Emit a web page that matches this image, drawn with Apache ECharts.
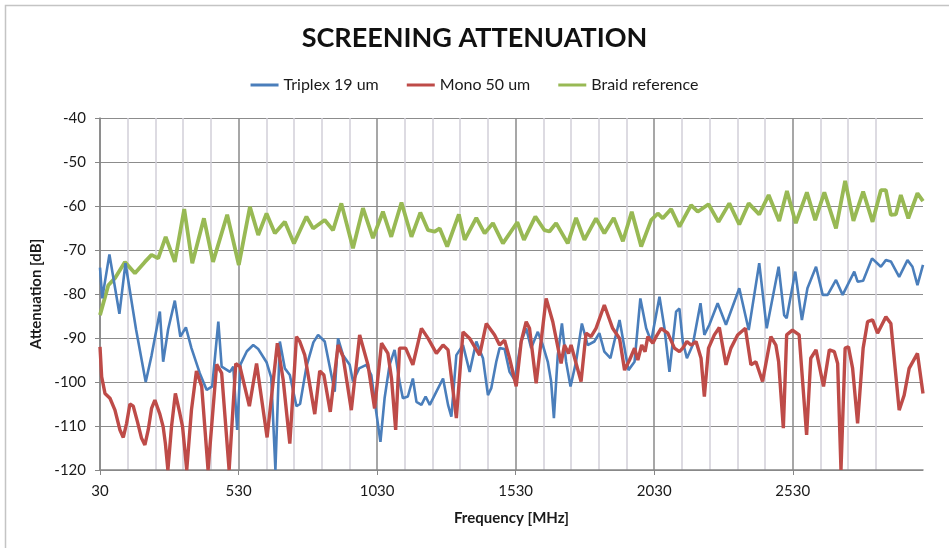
<!DOCTYPE html>
<html>
<head>
<meta charset="utf-8">
<script src="https://cdn.jsdelivr.net/npm/echarts@6/dist/echarts.min.js"></script>
<style>
  html, body { margin: 0; padding: 0; background: #fff; }
  #chart { width: 949px; height: 548px; }
</style>
</head>
<body>
<div id="chart"></div>
<script>
// series names
var seriesNames = ['Triplex 19 um', 'Mono 50 um', 'Braid reference'];

// [MHz, dB]
var triplexData = [[30,-74],[38,-81],[64,-71],[80,-77],[100,-84.5],[122,-73],[160,-88],[195,-100],[216,-94],[246,-84],[258,-95.4],[276,-88],[300,-81.5],[320,-89.7],[340,-87.6],[360,-92.3],[390,-98],[415,-101.8],[435,-101],[457,-86.3],[469,-96.5],[499,-97.7],[511,-96.5],[525,-110.9],[537,-96],[560,-93],[583,-91.6],[601,-92.5],[631,-95.5],[648,-99],[663,-120],[679,-90.8],[697,-96.9],[715,-98.4],[739,-105.5],[752,-105],[775,-96.5],[800,-91],[817,-89.3],[841,-90.8],[865,-98.4],[877,-102.2],[889,-90.1],[907,-93.9],[931,-96.1],[943,-99.9],[965,-96.9],[991,-96.1],[1009,-98.4],[1025,-106],[1042,-113.6],[1057,-103.7],[1075,-96.1],[1093,-92.7],[1111,-99.9],[1123,-103.7],[1141,-103.3],[1159,-99.2],[1172,-104.5],[1190,-105.2],[1205,-103.3],[1220,-105.2],[1244,-102.2],[1268,-99.2],[1286,-105.2],[1298,-107.9],[1316,-93.9],[1340,-91.6],[1364,-97.7],[1388,-90.8],[1412,-94.6],[1430,-103],[1442,-101.4],[1460,-95.4],[1472,-92.3],[1490,-92.5],[1508,-97.7],[1526,-99.5],[1550,-90.8],[1568,-87.8],[1586,-92.3],[1610,-88.6],[1628,-91.6],[1646,-95.4],[1658,-99.9],[1668,-108.2],[1682,-93.9],[1697,-86.7],[1712,-95.4],[1728,-101],[1748,-95.4],[1769,-86.7],[1790,-91.6],[1814,-90.8],[1832,-88.9],[1850,-93.1],[1872,-94.6],[1886,-90.8],[1905,-85.9],[1923,-92.3],[1937,-97.3],[1959,-95.4],[1980,-81],[2001,-87.8],[2019,-90.8],[2049,-80.6],[2067,-87.8],[2085,-97.7],[2109,-84],[2121,-83.3],[2133,-90.8],[2148,-94.6],[2169,-91.6],[2197,-82.1],[2211,-89.3],[2229,-87],[2259,-82.1],[2289,-87],[2337,-78.7],[2371,-88.2],[2409,-73],[2436,-87.8],[2479,-73.8],[2499,-84.8],[2508,-85.5],[2539,-74.9],[2563,-85.9],[2583,-78.7],[2614,-73.8],[2638,-80.2],[2656,-80.2],[2686,-76.8],[2710,-80.2],[2752,-74.9],[2764,-77.2],[2784,-77],[2816,-71.9],[2848,-73.8],[2866,-72.3],[2884,-72.6],[2914,-76.1],[2944,-72.3],[2962,-73.8],[2980,-78],[3000,-73.4]];

var monoData = [[30,-92],[36,-98.8],[48,-102.6],[66,-103.7],[84,-106.4],[102,-110.9],[114,-112.6],[126,-109.4],[138,-105],[150,-105.5],[165,-109],[180,-112.8],[192,-114.3],[204,-110.9],[216,-106],[228,-104.1],[246,-107.3],[258,-110.2],[266,-114],[275,-120],[288,-110.2],[302,-102.6],[318,-107.1],[328,-110.2],[343,-120],[360,-106.4],[378,-97.5],[397,-101],[420,-120],[451,-96],[469,-98],[496,-120],[520,-95.8],[535,-96.5],[569,-105.5],[595,-95.8],[633,-112.6],[670,-91.2],[691,-99.5],[715,-114],[739,-89.7],[751,-90.8],[769,-93.9],[805,-107.3],[823,-97.5],[838,-98.4],[861,-106.8],[889,-91.6],[907,-94.2],[937,-106.4],[967,-89.3],[997,-96.1],[1021,-106],[1046,-91.2],[1069,-93.5],[1082,-99.2],[1097,-110.9],[1111,-92.3],[1133,-92.3],[1159,-96.1],[1190,-87.8],[1214,-90.1],[1244,-93.5],[1268,-91.6],[1286,-92.7],[1316,-108.2],[1340,-88.6],[1364,-90.1],[1400,-93.9],[1424,-86.7],[1454,-89.3],[1472,-91.6],[1490,-90.5],[1508,-94.6],[1532,-101],[1550,-90.8],[1568,-86.3],[1580,-87.8],[1604,-100.3],[1640,-81],[1664,-86.3],[1694,-95.8],[1706,-91.6],[1721,-93.5],[1730,-91.6],[1766,-99.9],[1784,-88.9],[1802,-89.7],[1820,-87.8],[1850,-82.5],[1880,-87.8],[1905,-90.1],[1923,-97.3],[1941,-95],[1959,-92.3],[1971,-95],[1985,-91.6],[1997,-93.1],[2007,-89.7],[2025,-91.2],[2037,-89.7],[2055,-87.8],[2079,-88.9],[2103,-92.3],[2121,-93.1],[2133,-92.3],[2148,-90.8],[2163,-91.6],[2181,-90.8],[2199,-94.6],[2211,-103.3],[2226,-92.3],[2247,-89.3],[2265,-87.6],[2289,-96.1],[2307,-92.3],[2331,-89.3],[2359,-87.8],[2379,-96.1],[2397,-95.4],[2421,-99.9],[2451,-89.7],[2469,-91.6],[2479,-95.4],[2496,-110.5],[2508,-89.3],[2529,-88.2],[2553,-89.3],[2580,-112],[2595,-94.6],[2614,-92.7],[2641,-101],[2662,-92.7],[2680,-93.1],[2692,-95.8],[2704,-120],[2719,-92.3],[2731,-92],[2746,-96.9],[2764,-109.4],[2784,-92.3],[2800,-86.3],[2818,-85.9],[2836,-88.9],[2866,-85.2],[2884,-86.7],[2914,-106.4],[2932,-103],[2950,-96.9],[2980,-93.5],[3000,-102.6]];

var braidData = [[30,-84.8],[60,-78],[84,-76.4],[120,-72.7],[156,-75.3],[192,-72.7],[216,-71.1],[240,-71.9],[267,-67],[300,-72.7],[334,-60.7],[363,-73],[405,-62.8],[438,-72.7],[489,-62],[531,-73.4],[571,-60.2],[601,-66.6],[631,-61.7],[661,-66.2],[697,-63.6],[730,-68.5],[775,-62.4],[799,-65.1],[841,-63.2],[871,-65.5],[901,-59.4],[943,-69.6],[979,-60.5],[1015,-67.3],[1051,-61.3],[1081,-67],[1118,-59.2],[1154,-67],[1186,-61.5],[1214,-65.5],[1238,-65.8],[1256,-65.1],[1283,-69.2],[1325,-61.9],[1346,-67.7],[1388,-62.7],[1418,-66.2],[1448,-63.9],[1484,-68.5],[1536,-63.7],[1560,-67.7],[1601,-62.4],[1634,-65.5],[1652,-65.8],[1676,-63.9],[1718,-68.5],[1748,-62.7],[1778,-67.7],[1820,-62.8],[1850,-66.2],[1884,-62.7],[1917,-68],[1949,-61.3],[1983,-69.2],[2019,-63.2],[2043,-61.7],[2061,-62.8],[2091,-60.7],[2121,-64.7],[2163,-59.8],[2187,-61.3],[2226,-59.6],[2262,-63.6],[2301,-59.4],[2337,-64.2],[2371,-59.4],[2409,-61.9],[2443,-57.5],[2481,-63.4],[2509,-56.6],[2541,-63.9],[2581,-56.9],[2611,-63.2],[2644,-56.9],[2686,-65.1],[2719,-54.3],[2749,-63.4],[2784,-56.7],[2818,-63.6],[2848,-56.4],[2866,-56.4],[2884,-62],[2902,-61.9],[2920,-57.5],[2947,-62.8],[2980,-57.1],[3000,-58.9]];

// axis ticks
var labelFreqs = [30, 530, 1030, 1530, 2030, 2530];
var gridFreqs = [30,130,230,330,430,530,630,730,830,930,1030,1130,1230,1330,1430,1530,1630,1730,1830,1930,2030,2130,2230,2330,2430,2530,2630,2730,2830,2930];

var myChart = echarts.init(document.getElementById('chart'));
var txt = '#1a1a1a';
var font = 'Lato';

var option = {
    backgroundColor: '#fff',
    animation: false,
    textStyle: { fontFamily: font },
    title: {
        text: 'SCREENING ATTENUATION',
        left: 'center',
        top: 20,
        textStyle: { fontFamily: font, fontSize: 27, fontWeight: 'bold', color: '#111' }
    },
    legend: {
        data: seriesNames,
        top: 72,
        left: 'center',
        icon: 'rect',
        itemWidth: 28,
        itemHeight: 3,
        itemGap: 28,
        textStyle: { fontFamily: font, fontSize: 16, color: txt }
    },
    grid: { left: 100, right: 26, top: 118, bottom: 78 },
    graphic: [{
        type: 'rect',
        shape: { x: 5.5, y: 5.5, width: 980, height: 600 },
        style: { fill: null, stroke: '#c4c4c4', lineWidth: 1.5 },
        silent: true
    }],
    xAxis: [{
        type: 'value',
        min: 30,
        max: 3000,
        axisLine: { show: true, onZero: false, lineStyle: { color: '#868686', width: 1.5 } },
        axisTick: { show: false, customValues: gridFreqs },
        axisLabel: { show: false },
        splitLine: {
            show: true,
            showMaxLine: false,
            lineStyle: { color: ['#8a8a8a', '#d2cfd8', '#d2cfd8', '#d2cfd8', '#d2cfd8'], width: 1.5 }
        }
    }, {
        type: 'value',
        min: 30,
        max: 3000,
        position: 'bottom',
        name: 'Frequency [MHz]',
        nameLocation: 'middle',
        nameGap: 41,
        nameTextStyle: { fontFamily: font, fontSize: 15, fontWeight: 'bold', color: txt },
        axisLine: { show: false },
        axisTick: { show: true, customValues: labelFreqs, length: 5, lineStyle: { color: '#868686' } },
        axisLabel: {
            customValues: labelFreqs, margin: 14, fontFamily: font, fontSize: 15, color: txt,
            formatter: function (v) { return String(v); }
        },
        splitLine: { show: false }
    }],
    yAxis: {
        type: 'value',
        min: -120,
        max: -40,
        interval: 10,
        name: 'Attenuation [dB]',
        nameLocation: 'middle',
        nameGap: 56,
        nameTextStyle: { fontFamily: font, fontSize: 15, fontWeight: 'bold', color: txt },
        axisLine: { show: true, lineStyle: { color: '#868686', width: 1.5 } },
        axisTick: { show: true, length: 5, lineStyle: { color: '#868686' } },
        axisLabel: { margin: 14, fontFamily: font, fontSize: 15, color: txt },
        splitLine: { lineStyle: { color: '#8c8c8c', width: 1.2 } }
    },
    series: [
        { name: seriesNames[0], type: 'line', xAxisIndex: 0, data: triplexData, showSymbol: false, symbol: 'none',
          lineStyle: { color: '#4a7ebb', width: 2.6 }, itemStyle: { color: '#4a7ebb' }, z: 3 },
        { name: seriesNames[1], type: 'line', xAxisIndex: 0, data: monoData, showSymbol: false, symbol: 'none',
          lineStyle: { color: '#be4b48', width: 3.4 }, itemStyle: { color: '#be4b48' }, z: 4 },
        { name: seriesNames[2], type: 'line', xAxisIndex: 0, data: braidData, showSymbol: false, symbol: 'none',
          lineStyle: { color: '#98b954', width: 3.8 }, itemStyle: { color: '#98b954' }, z: 2 }
    ]
};

myChart.setOption(option);
</script>
</body>
</html>
